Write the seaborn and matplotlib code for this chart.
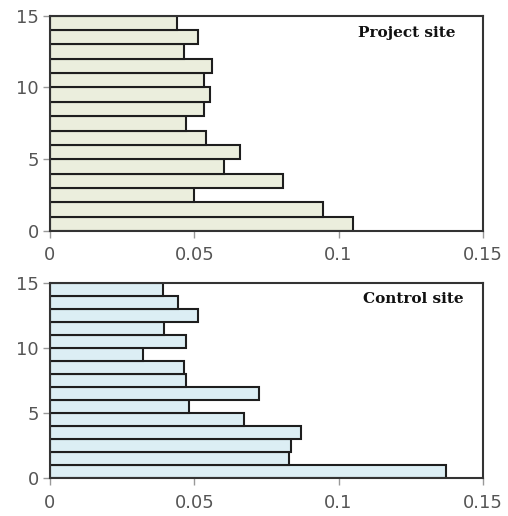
import numpy as np
import pandas as pd
import matplotlib
matplotlib.use("Agg")
import matplotlib.pyplot as plt
import seaborn as sns

# Relative frequency per depth class (class 0-1 at the bottom, 14-15 at the top)
bin_edges = list(range(16))
project_freq = [0.105, 0.0945, 0.050, 0.0806, 0.0604, 0.066, 0.054, 0.0473,
                0.0533, 0.0554, 0.0533, 0.0561, 0.0465, 0.0514, 0.0439]
control_freq = [0.1374, 0.0828, 0.0834, 0.0869, 0.0673, 0.0482, 0.0725, 0.0471,
                0.0465, 0.0323, 0.0471, 0.0396, 0.0514, 0.0445, 0.0393]
x_ticks = [0, 0.05, 0.1, 0.15]
x_tick_labels = ["0", "0.05", "0.1", "0.15"]
y_ticks = [0, 5, 10, 15]
panel_titles = ["Project site", "Control site"]
panel_colors = ["#EBEEDD", "#DCEEF4"]

sns.set_style("white")
plt.rcParams["font.family"] = ["DejaVu Sans"]

fig = plt.figure(figsize=(5.08, 5.16), dpi=100)
ax_top = fig.add_axes([0.0984, 0.5523, 0.852, 0.4172])
ax_bot = fig.add_axes([0.0984, 0.0731, 0.852, 0.379])

title_pos = [(0.938, 0.92), (0.956, 0.917)]
centers = np.arange(15) + 0.5
for ax, freq, title, color, pos in zip([ax_top, ax_bot], [project_freq, control_freq],
                                       panel_titles, panel_colors, title_pos):
    df = pd.DataFrame({"depth": centers, "freq": freq})
    sns.histplot(data=df, y="depth", weights="freq", bins=bin_edges, ax=ax,
                 color=color, alpha=1, edgecolor="#1e1e1e", linewidth=1.5)
    ax.set_xlim(0, 0.15)
    ax.set_ylim(0, 15)
    ax.set_xticks(x_ticks)
    ax.set_xticklabels(x_tick_labels)
    ax.set_yticks(y_ticks)
    ax.set_xlabel("")
    ax.set_ylabel("")
    ax.tick_params(axis="both", which="both", direction="out", length=5, width=1,
                   color="#999999", labelsize=13, labelcolor="#555555", pad=3,
                   bottom=True, left=True)
    ax.tick_params(axis="x", pad=6)
    for sp in ax.spines.values():
        sp.set_visible(True)
        sp.set_color("#333333")
        sp.set_linewidth(1.5)
    ax.text(pos[0], pos[1], title, transform=ax.transAxes, ha="right", va="center",
            fontsize=11, fontweight="bold", family=["DejaVu Serif"], color="#111111")

fig.savefig("out.png", dpi=100)
